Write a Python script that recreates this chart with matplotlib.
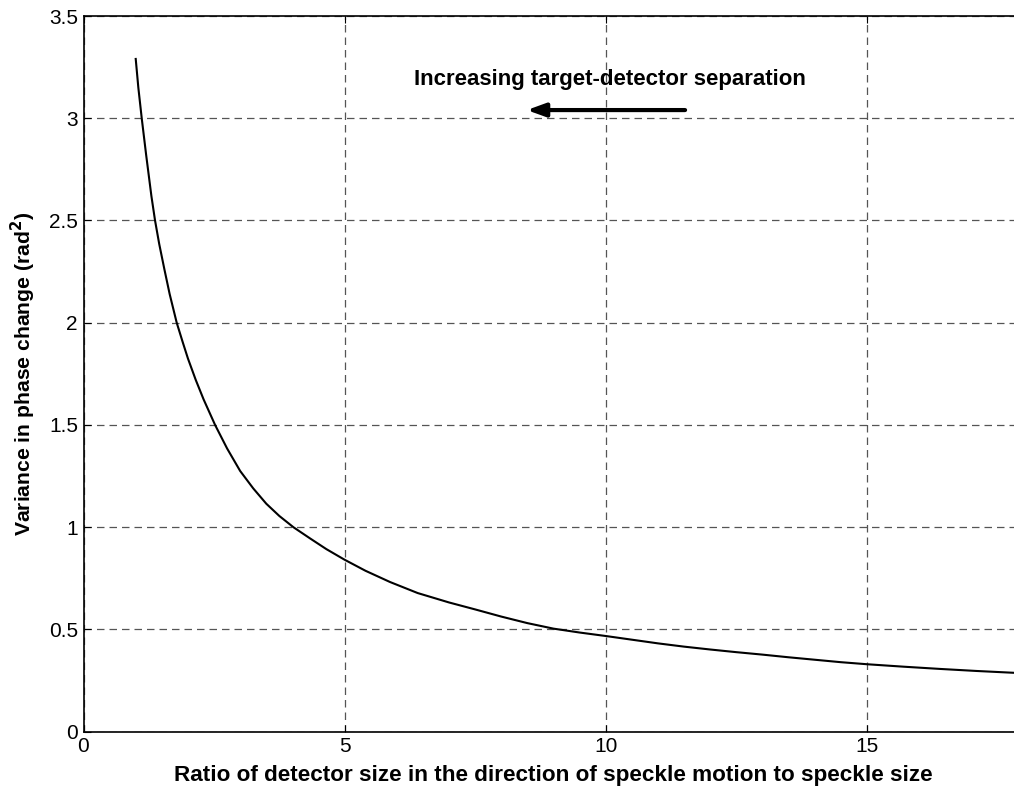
import matplotlib
matplotlib.use("Agg")
import matplotlib.pyplot as plt

plt.rcParams['font.family'] = ['Liberation Sans', 'DejaVu Sans']

# Detector size / speckle size ratio and the variance of the phase change
ratio = [1.0, 1.05, 1.115, 1.2, 1.3, 1.37, 1.45, 1.55, 1.65, 1.785, 1.9, 2.0,
         2.15, 2.3, 2.52, 2.75, 3.0, 3.25, 3.5, 3.75, 4.02, 4.34, 4.65, 5.0,
         5.4, 5.87, 6.4, 7.0, 7.5, 8.0, 8.5, 9.0, 9.5, 10.0, 10.5, 11.0, 11.5,
         12.0, 12.5, 13.0, 13.5, 14.0, 14.5, 15.0, 15.7, 16.4, 17.1, 17.82, 18.0]
variance = [3.29, 3.15, 3.0, 2.82, 2.62, 2.5, 2.385, 2.26, 2.14, 2.0, 1.905,
            1.825, 1.72, 1.625, 1.5, 1.385, 1.275, 1.19, 1.115, 1.055, 1.0,
            0.945, 0.893, 0.841, 0.787, 0.732, 0.678, 0.632, 0.598, 0.563,
            0.531, 0.504, 0.485, 0.468, 0.45, 0.432, 0.416, 0.402, 0.389,
            0.377, 0.364, 0.352, 0.340, 0.330, 0.318, 0.307, 0.297, 0.288, 0.286]

x_ticks = [0, 5, 10, 15]
y_ticks = [0, 0.5, 1, 1.5, 2, 2.5, 3, 3.5]
y_tick_labels = ['0', '0.5', '1', '1.5', '2', '2.5', '3', '3.5']

W, H = 1014, 796
fig = plt.figure(figsize=(W / 100, H / 100), dpi=100)
left, bottom, top = 83.5 / W, (H - 731.7) / H, (H - 16) / H
ax = fig.add_axes([left, bottom, 18 * 52.22 / W, top - bottom])

ax.plot(ratio, variance, color='black', lw=1.5)

ax.set_xlim(0, 18)
ax.set_ylim(0, 3.5)
ax.set_xticks(x_ticks)
ax.set_yticks(y_ticks)
ax.set_yticklabels(y_tick_labels)
ax.tick_params(direction='in', length=5, width=0.8, labelsize=15,
               top=True, right=True, pad=4)
ax.grid(True, color='#555555', linestyle=(0, (6, 4)), linewidth=0.9)
for s in ax.spines.values():
    s.set_linewidth(1.2)

ax.set_xlabel('Ratio of detector size in the direction of speckle motion to speckle size',
              fontsize=16.2, fontweight='bold', labelpad=6)
ax.set_ylabel('Variance in phase change (rad$^\\mathbf{2}$)',
              fontsize=15.2, fontweight='bold', labelpad=8)

ax.text(10.08, 3.19, 'Increasing target-detector separation',
        ha='center', va='center', fontsize=16, fontweight='bold')
ax.annotate('', xy=(8.49, 3.04), xytext=(11.52, 3.04),
            arrowprops=dict(arrowstyle='-|>,head_length=1.1,head_width=0.4',
                            color='black', lw=3, shrinkA=0, shrinkB=0))

fig.savefig('out.png', dpi=100)
